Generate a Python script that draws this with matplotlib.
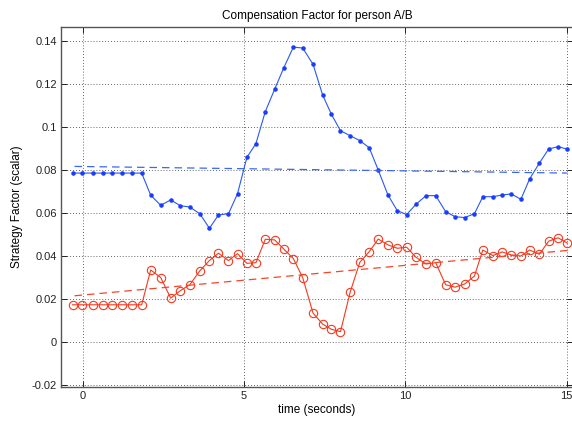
import matplotlib.pyplot as plt

plt.rcParams['font.family'] = ['Liberation Sans', 'DejaVu Sans']
plt.rcParams['font.size'] = 8

# time stamps (seconds), shared by both series
t = [-0.31, -0.01, 0.31, 0.62, 0.92, 1.22, 1.53, 1.83, 2.11, 2.42, 2.73,
     3.03, 3.32, 3.63, 3.93, 4.21, 4.52, 4.80, 5.09, 5.37, 5.66, 5.95,
     6.23, 6.53, 6.82, 7.14, 7.44, 7.71, 7.99, 8.29, 8.59, 8.88, 9.16,
     9.46, 9.75, 10.04, 10.33, 10.64, 10.94, 11.25, 11.54, 11.84, 12.14,
     12.40, 12.71, 13.00, 13.28, 13.58, 13.85, 14.15, 14.44, 14.73, 15.02]

person_a = [0.0787, 0.0787, 0.0787, 0.0787, 0.0787, 0.0787, 0.0787, 0.0787,
            0.0684, 0.0637, 0.0662, 0.0635, 0.0629, 0.0598, 0.0530, 0.0592,
            0.0598, 0.0691, 0.0860, 0.0924, 0.1073, 0.1177, 0.1276, 0.1373,
            0.1369, 0.1293, 0.1149, 0.1060, 0.0984, 0.0961, 0.0938, 0.0905,
            0.0801, 0.0685, 0.0612, 0.0594, 0.0642, 0.0682, 0.0682, 0.0607,
            0.0584, 0.0580, 0.0598, 0.0677, 0.0677, 0.0685, 0.0690, 0.0665,
            0.0760, 0.0833, 0.0899, 0.0910, 0.0898]

person_b = [0.0174, 0.0174, 0.0174, 0.0174, 0.0174, 0.0174, 0.0174, 0.0174,
            0.0336, 0.0301, 0.0205, 0.0240, 0.0267, 0.0332, 0.0380, 0.0414,
            0.0380, 0.0412, 0.0367, 0.0370, 0.0479, 0.0476, 0.0434, 0.0389,
            0.0300, 0.0135, 0.0084, 0.0060, 0.0049, 0.0233, 0.0372, 0.0421,
            0.0480, 0.0453, 0.0437, 0.0442, 0.0395, 0.0364, 0.0370, 0.0267,
            0.0256, 0.0271, 0.0308, 0.0429, 0.0403, 0.0420, 0.0406, 0.0401,
            0.0429, 0.0409, 0.0470, 0.0486, 0.0461]

# linear trend end points
trend_t = [-0.25, 15.02]
trend_a = [0.0818, 0.0787]
trend_b = [0.0216, 0.0427]

fig = plt.figure(figsize=(5.72, 4.21), dpi=100, facecolor='white')
ax = fig.add_axes([0.1066, 0.080, 0.8955, 0.856])

ax.plot(t, person_a, '-', color='#2a58f2', lw=0.8, marker='.', ms=4.5,
        mfc='#1a3cff', mec='#1a3cff')
ax.plot(trend_t, trend_a, '--', color='#3a68f5', lw=0.9, dashes=(6, 4))
ax.plot(t, person_b, '-', color='#f5391e', lw=0.8, marker='o', ms=6,
        mfc='none', mec='#f5391e', mew=0.8)
ax.plot(trend_t, trend_b, '--', color='#f5452a', lw=0.9, dashes=(6, 4))

ax.set_xlim(-0.67, 15.2)
ax.set_ylim(-0.021, 0.1467)
ax.set_xticks([0, 5, 10, 15])
ax.set_yticks([-0.02, 0, 0.02, 0.04, 0.06, 0.08, 0.1, 0.12, 0.14])
ax.set_yticklabels(['-0.02', '0', '0.02', '0.04', '0.06', '0.08', '0.1', '0.12', '0.14'])

ax.grid(True, color='#333333', linestyle=(0, (1, 2.5)), lw=0.6)
ax.tick_params(direction='in', length=4, width=0.7, top=True, right=True,
               colors='#222222', labelsize=8, pad=3)
for s in ax.spines.values():
    s.set_color('#555555')
    s.set_linewidth(1.0)

ax.set_title('Compensation Factor for person A/B', fontsize=8.5, pad=6)
ax.set_xlabel('time (seconds)', fontsize=8.5, labelpad=2)
ax.set_ylabel('Strategy Factor (scalar)', fontsize=8.5, labelpad=6)

fig.savefig('out.png', dpi=100)
